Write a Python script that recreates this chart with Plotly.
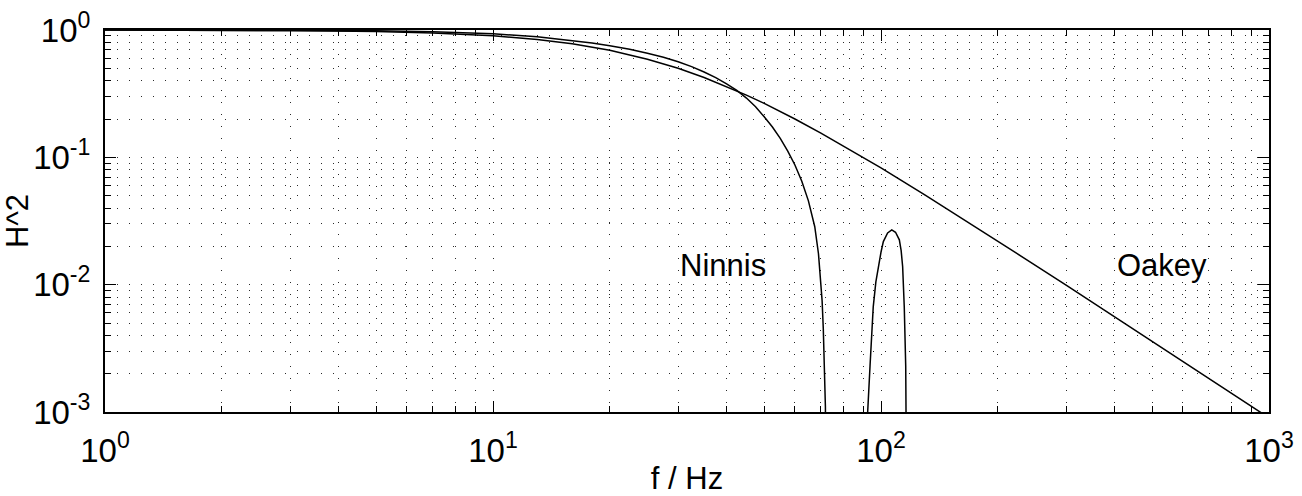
import numpy as np
import plotly.graph_objects as go

# ---- data ----
f_oakey = [1, 2, 3, 5, 7, 10, 13, 16, 20, 25, 30, 35, 40, 45, 50, 60, 70, 80,
           100, 130, 170, 200, 250, 300, 400, 500, 600, 700, 800, 1000]
h2_oakey = [0.999, 0.996, 0.990, 0.973, 0.948, 0.900, 0.842, 0.779, 0.692, 0.590,
            0.500, 0.424, 0.360, 0.308, 0.265, 0.200, 0.155, 0.123, 0.0826, 0.0505,
            0.0302, 0.0220, 0.0142, 0.0099, 0.0056, 0.0036, 0.0025, 0.00183, 0.00140, 0.0009]

f_ninnis_main = [1, 2, 3, 5, 7, 10, 13, 16, 18, 20, 22.5, 25, 27.5, 30, 32.5, 35, 37.5,
                 40, 42.5, 45, 47.5, 50, 52.5, 55, 57.5, 60, 62.5, 65, 67.5, 69,
                 69.9, 70.5, 71.0, 71.5, 71.9, 72.15]
h2_ninnis_main = [1.0, 0.998, 0.995, 0.985, 0.968, 0.935, 0.885, 0.83, 0.792, 0.752,
                  0.706, 0.658, 0.611, 0.563, 0.516, 0.468, 0.423, 0.378, 0.335, 0.292,
                  0.250, 0.208, 0.173, 0.141, 0.112, 0.087, 0.065, 0.0455, 0.0285, 0.0175,
                  0.0105, 0.0075, 0.0045, 0.0024, 0.0011, 0.0002]

f_ninnis_lobe = [92.2, 92.4, 93.7, 95.5, 97, 98.4, 100, 101.4, 104, 106.6, 109,
                 111.5, 112.7, 113.7, 114.8, 115.8, 116.2, 116.4]
h2_ninnis_lobe = [0.0002, 0.001, 0.0023, 0.0067, 0.0105, 0.0139, 0.018, 0.0218, 0.0255,
                  0.0269, 0.0258, 0.0225, 0.0185, 0.0139, 0.0067, 0.0023, 0.001, 0.0002]

x_tick_vals = [1, 10, 100, 1000]
x_tick_text = ["10<sup>0</sup>", "10<sup>1</sup>", "10<sup>2</sup>", "10<sup>3</sup>"]
y_tick_vals = [0.001, 0.01, 0.1, 1]
y_tick_text = ["10<sup>-3</sup>", "10<sup>-2</sup>", "10<sup>-1</sup>", "10<sup>0</sup>"]

label_names = ["Ninnis", "Oakey"]
label_f = [30, 400]
label_h2 = [0.0142, 0.0142]

FONT = "Liberation Sans, Arial, Helvetica, sans-serif"
TICK_SIZE = 33
TEXT_SIZE = 31

x_minor = [m * 10 ** d for d in range(0, 3) for m in range(2, 10)]
y_minor = [m * 10.0 ** d for d in range(-3, 0) for m in range(2, 10)]

fig = go.Figure()
line = dict(color="black", width=1.5)
fig.add_trace(go.Scatter(x=f_oakey, y=h2_oakey, mode="lines", line=line, showlegend=False))
fig.add_trace(go.Scatter(x=f_ninnis_main, y=h2_ninnis_main, mode="lines", line=line, showlegend=False))
fig.add_trace(go.Scatter(x=f_ninnis_lobe, y=h2_ninnis_lobe, mode="lines", line=line, showlegend=False))

for name, fx, fy in zip(label_names, label_f, label_h2):
    fig.add_annotation(x=np.log10(fx), y=np.log10(fy), text=name, showarrow=False,
                       xanchor="left", yanchor="middle",
                       font=dict(family=FONT, size=TEXT_SIZE, color="black"))

grid_dash = "1px,11px"
grid_color = "#2a2a2a"
axis_common = dict(
    type="log", showline=True, linecolor="black", linewidth=2, mirror="ticks",
    ticks="inside", ticklen=11, tickwidth=1, tickcolor="black", automargin=False,
    showgrid=True, gridcolor=grid_color, gridwidth=1, griddash=grid_dash,
    zeroline=False, tickfont=dict(family=FONT, size=TICK_SIZE, color="black"),
)

fig.update_xaxes(
    **axis_common, range=[0, 3], tickmode="array", tickvals=x_tick_vals, ticktext=x_tick_text,
    ticklabelstandoff=8,
    minor=dict(tickmode="array", tickvals=x_minor, ticks="inside", ticklen=6, tickcolor="black",
               showgrid=True, gridcolor=grid_color, gridwidth=1, griddash=grid_dash),
    title=dict(text="f / Hz", font=dict(family=FONT, size=TEXT_SIZE, color="black"), standoff=6),
)
fig.update_yaxes(
    **axis_common, range=[-3, 0], tickmode="array", tickvals=y_tick_vals, ticktext=y_tick_text,
    ticklabelstandoff=6,
    minor=dict(tickmode="array", tickvals=y_minor, ticks="inside", ticklen=6, tickcolor="black",
               showgrid=True, gridcolor=grid_color, gridwidth=1, griddash=grid_dash),
    title=dict(text="H^2", font=dict(family=FONT, size=TEXT_SIZE, color="black"), standoff=8),
)

fig.update_layout(
    width=1302, height=496,
    margin=dict(l=105, r=33, t=30, b=84, pad=0, autoexpand=False),
    plot_bgcolor="white", paper_bgcolor="white",
    font=dict(family=FONT, size=TEXT_SIZE, color="black"),
)

fig.write_html("out.html")
